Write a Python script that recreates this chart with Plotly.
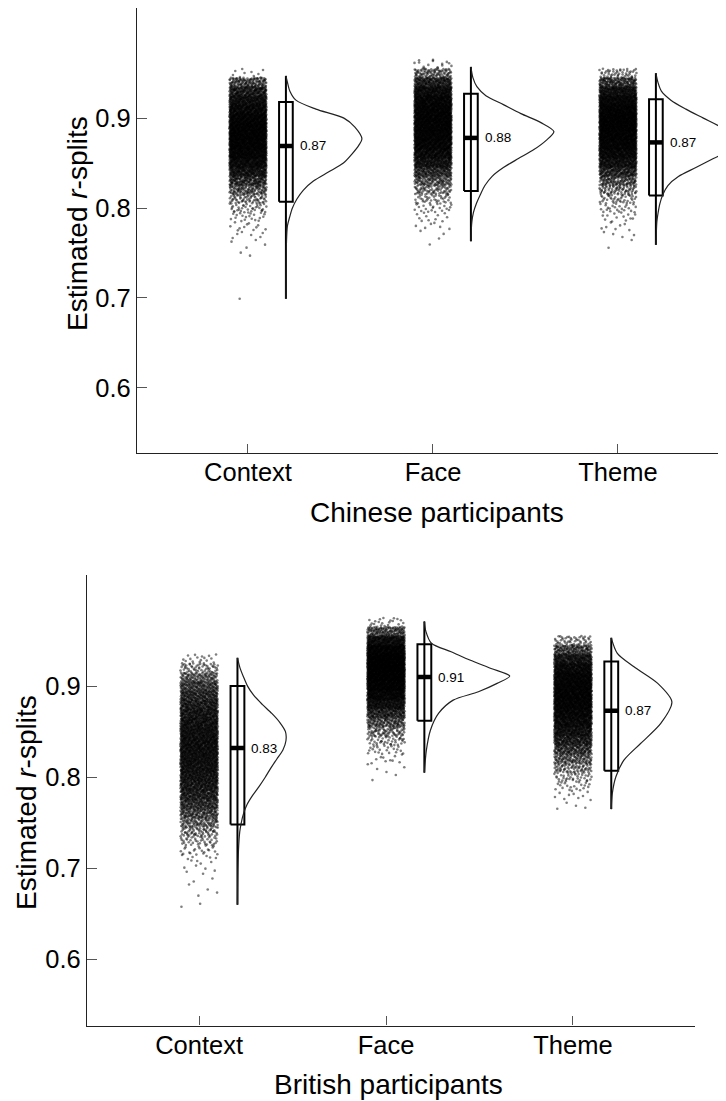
import plotly.graph_objects as go

CATEGORIES = ["Context", "Face", "Theme"]
PANEL_TITLES = ["Chinese participants", "British participants"]
MEDIAN_LABELS_CN = ["0.87", "0.88", "0.87"]
MEDIAN_LABELS_GB = ["0.83", "0.91", "0.87"]

# box summaries: lower whisker, q1, median, q3, upper whisker
CN_CONTEXT_BOX = [0.699, 0.807, 0.869, 0.918, 0.947]
CN_FACE_BOX = [0.763, 0.819, 0.878, 0.927, 0.957]
CN_THEME_BOX = [0.759, 0.814, 0.873, 0.921, 0.950]
GB_CONTEXT_BOX = [0.660, 0.748, 0.832, 0.900, 0.931]
GB_FACE_BOX = [0.805, 0.862, 0.910, 0.946, 0.971]
GB_THEME_BOX = [0.765, 0.807, 0.873, 0.927, 0.953]

# half-violin density profiles (value, density)
CN_CONTEXT_VY = [0.947, 0.94, 0.93, 0.92, 0.91, 0.90, 0.89, 0.877, 0.87, 0.86, 0.85, 0.84, 0.83, 0.82, 0.81, 0.80, 0.79, 0.78, 0.76, 0.73, 0.699]
CN_CONTEXT_VD = [0.0, 0.3, 0.8, 2.0, 6.0, 11.6, 13.8, 15.2, 14.6, 13.2, 11.5, 8.5, 5.5, 3.5, 2.2, 1.3, 0.75, 0.3, 0.1, 0.03, 0.0]
CN_FACE_VY = [0.957, 0.945, 0.935, 0.925, 0.915, 0.905, 0.895, 0.885, 0.875, 0.865, 0.855, 0.845, 0.835, 0.825, 0.815, 0.805, 0.795, 0.785, 0.775, 0.763]
CN_FACE_VD = [0.0, 0.4, 1.2, 3.0, 6.5, 10.0, 14.0, 16.6, 15.0, 12.6, 9.5, 6.5, 4.2, 2.8, 1.9, 1.1, 0.5, 0.2, 0.07, 0.0]
CN_THEME_VY = [0.950, 0.94, 0.93, 0.92, 0.91, 0.90, 0.89, 0.88, 0.872, 0.865, 0.855, 0.845, 0.835, 0.825, 0.815, 0.805, 0.795, 0.785, 0.77, 0.759]
CN_THEME_VD = [0.0, 0.4, 1.1, 3.0, 6.0, 9.5, 13.0, 15.5, 16.0, 15.0, 11.5, 8.0, 4.5, 2.4, 1.4, 0.8, 0.45, 0.2, 0.07, 0.0]
GB_CONTEXT_VY = [0.931, 0.92, 0.91, 0.90, 0.89, 0.88, 0.87, 0.86, 0.85, 0.84, 0.83, 0.82, 0.81, 0.80, 0.79, 0.78, 0.77, 0.76, 0.75, 0.74, 0.73, 0.72, 0.70, 0.68, 0.66]
GB_CONTEXT_VD = [0.0, 0.5, 1.2, 2.0, 3.2, 4.9, 6.8, 8.4, 9.5, 9.6, 9.0, 7.8, 6.6, 5.5, 4.3, 3.0, 1.9, 1.2, 0.75, 0.45, 0.3, 0.2, 0.08, 0.03, 0.0]
GB_FACE_VY = [0.971, 0.96, 0.947, 0.9377, 0.9286, 0.9194, 0.911, 0.903, 0.8938, 0.8846, 0.870, 0.8516, 0.8297, 0.805]
GB_FACE_VD = [0.0, 0.3, 1.4, 5.3, 9.0, 13.2, 16.9, 14.4, 10.7, 5.7, 2.8, 1.2, 0.4, 0.0]
GB_THEME_VY = [0.953, 0.936, 0.9212, 0.903, 0.8827, 0.859, 0.837, 0.8187, 0.8003, 0.782, 0.765]
GB_THEME_VD = [0.0, 1.2, 4.5, 9.2, 12.0, 9.8, 5.8, 2.5, 0.9, 0.2, 0.0]

# jittered raw-estimate clouds: relative counts per 0.01-wide bin
BIN_CENTERS = [0.97, 0.96, 0.95, 0.94, 0.93, 0.92, 0.91, 0.90, 0.89, 0.88, 0.87, 0.86, 0.85, 0.84, 0.83, 0.82,
               0.81, 0.80, 0.79, 0.78, 0.77, 0.76, 0.75, 0.74, 0.73, 0.72, 0.71, 0.70, 0.69, 0.68, 0.67, 0.66]
CN_CONTEXT_CLOUD = [0, 0, 0.3, 4, 7, 9, 10.5, 12, 13, 13.5, 13, 12, 10, 8, 5.5, 3.5,
                    2, 1.1, 0.6, 0.35, 0.2, 0.12, 0.06, 0, 0, 0, 0, 0, 0, 0, 0, 0]
CN_FACE_CLOUD = [0, 0.5, 3, 7, 10, 12, 13, 13.5, 13.5, 13, 12, 10.5, 8.5, 6, 3.8, 2.2,
                 1.2, 0.65, 0.35, 0.2, 0.1, 0.04, 0, 0, 0, 0, 0, 0, 0, 0, 0, 0]
CN_THEME_CLOUD = [0, 0, 1.5, 5, 8.5, 11, 12.5, 13.5, 13.5, 13, 12, 10.5, 8.5, 6, 3.8, 2.2,
                  1.2, 0.7, 0.4, 0.22, 0.12, 0.06, 0, 0, 0, 0, 0, 0, 0, 0, 0, 0]
GB_CONTEXT_CLOUD = [0, 0, 0, 0, 0.5, 1.5, 3, 4.5, 5.5, 6.5, 7.2, 7.8, 8.2, 8.5, 8.5, 8.3,
                    8, 7.5, 7, 6.2, 5.2, 4, 2.8, 1.8, 1.1, 0.6, 0.3, 0.15, 0.08, 0.05, 0.05, 0.05]
GB_FACE_CLOUD = [0.6, 4, 9, 12.5, 14.5, 15, 14.5, 13, 11, 8.5, 6, 3.8, 2.2, 1.2, 0.6, 0.3,
                 0.12, 0.05, 0, 0, 0, 0, 0, 0, 0, 0, 0, 0, 0, 0, 0, 0]
GB_THEME_CLOUD = [0, 0, 1.5, 4.5, 8, 10.5, 12, 12.8, 13, 12.5, 11.5, 10.2, 8.7, 7, 5.2, 3.5,
                  2.2, 1.2, 0.6, 0.3, 0.12, 0, 0, 0, 0, 0, 0, 0, 0, 0, 0, 0]
CN_CONTEXT_OUTLIERS = [0.699]
N_POINTS = 4000

# ---------------- styling / geometry ----------------
FONT = "Liberation Sans, Arial, Helvetica, sans-serif"
BOX_OFF = 0.205
BOX_HW = 0.037
JIT_HW = 0.10
V_SCALE = 5.0 / 185.0
BIN_W = 0.01
PAGE_OFF = 8          # browser body margin
W, H = 726 - PAGE_OFF, 1101 - PAGE_OFF


def halton(k, b):
    f, r = 1.0, 0.0
    while k > 0:
        f /= b
        r += f * (k % b)
        k //= b
    return r


def px_x(p):
    return (p - PAGE_OFF) / W


def px_y(p):
    return 1 - (p - PAGE_OFF) / H


panels = [
    dict(boxes=[CN_CONTEXT_BOX, CN_FACE_BOX, CN_THEME_BOX],
         vy=[CN_CONTEXT_VY, CN_FACE_VY, CN_THEME_VY], vd=[CN_CONTEXT_VD, CN_FACE_VD, CN_THEME_VD],
         cloud=[CN_CONTEXT_CLOUD, CN_FACE_CLOUD, CN_THEME_CLOUD],
         extra=[CN_CONTEXT_OUTLIERS, [], []], labels=MEDIAN_LABELS_CN, xa="x", ya="y"),
    dict(boxes=[GB_CONTEXT_BOX, GB_FACE_BOX, GB_THEME_BOX],
         vy=[GB_CONTEXT_VY, GB_FACE_VY, GB_THEME_VY], vd=[GB_CONTEXT_VD, GB_FACE_VD, GB_THEME_VD],
         cloud=[GB_CONTEXT_CLOUD, GB_FACE_CLOUD, GB_THEME_CLOUD],
         extra=[[], [], []], labels=MEDIAN_LABELS_GB, xa="x2", ya="y2"),
]

fig = go.Figure()
annotations = []

for pi, p in enumerate(panels):
    for i, cat in enumerate(CATEGORIES):
        pos = i + 1
        dens = p["cloud"][i]
        tot = sum(dens)
        xs, ys = [], []
        k = 17 + 997 * (3 * pi + i)
        for c, d in zip(BIN_CENTERS, dens):
            n = int(round(d / tot * N_POINTS))
            for _ in range(n):
                k += 1
                ys.append(c - BIN_W / 2 + halton(k, 3) * BIN_W)
                xs.append(pos + (halton(k, 2) * 2 - 1) * JIT_HW)
        for v in p["extra"][i]:
            ys.append(v)
            xs.append(pos - 0.45 * JIT_HW)
        fig.add_trace(go.Scatter(x=xs, y=ys, mode="markers", xaxis=p["xa"], yaxis=p["ya"],
                                 marker=dict(size=2.6, color="rgba(0,0,0,0.5)", line=dict(width=0)),
                                 hoverinfo="skip", showlegend=False))
        lo, q1, med, q3, hi = p["boxes"][i]
        bx = pos + BOX_OFF
        fig.add_trace(go.Scatter(x=[bx, bx], y=[lo, hi], mode="lines", xaxis=p["xa"], yaxis=p["ya"],
                                 line=dict(color="black", width=2), hoverinfo="skip", showlegend=False))
        fig.add_trace(go.Scatter(x=[bx - BOX_HW, bx + BOX_HW, bx + BOX_HW, bx - BOX_HW, bx - BOX_HW],
                                 y=[q1, q1, q3, q3, q1], mode="lines", xaxis=p["xa"], yaxis=p["ya"],
                                 line=dict(color="black", width=2), hoverinfo="skip", showlegend=False))
        fig.add_trace(go.Scatter(x=[bx - BOX_HW, bx + BOX_HW], y=[med, med], mode="lines",
                                 xaxis=p["xa"], yaxis=p["ya"],
                                 line=dict(color="black", width=4.5), hoverinfo="skip", showlegend=False))
        fig.add_trace(go.Scatter(x=[bx + d * V_SCALE for d in p["vd"][i]], y=p["vy"][i], mode="lines",
                                 xaxis=p["xa"], yaxis=p["ya"],
                                 line=dict(color="#222222", width=1.2, shape="spline", smoothing=0.8),
                                 hoverinfo="skip", showlegend=False))
        annotations.append(dict(x=bx + BOX_HW, y=med, xref=p["xa"], yref=p["ya"], text=p["labels"][i],
                                showarrow=False, xanchor="left", yanchor="middle", xshift=5,
                                font=dict(family=FONT, size=13.5, color="black")))

axis_common = dict(showline=True, linecolor="#222222", linewidth=1.3, showgrid=False, zeroline=False,
                   ticks="inside", tickcolor="#555555", tickwidth=1.2,
                   tickfont=dict(family=FONT, size=25.5, color="black"))

fig.update_layout(
    width=W, height=H, margin=dict(l=0, r=0, t=0, b=0),
    paper_bgcolor="white", plot_bgcolor="white", showlegend=False,
    xaxis=dict(domain=[px_x(137), 1.0], range=[0.4, 3.584], tickvals=[1, 2, 3], ticktext=CATEGORIES,
               ticklen=9, anchor="y", ticklabelstandoff=-4, **axis_common),
    yaxis=dict(domain=[px_y(453), px_y(8)], range=[0.5275, 1.0225], tickvals=[0.6, 0.7, 0.8, 0.9],
               ticktext=["0.6", "0.7", "0.8", "0.9"], ticklen=10, anchor="x", **axis_common),
    xaxis2=dict(domain=[px_x(87), px_x(695)], range=[0.40, 3.653], tickvals=[1, 2, 3], ticktext=CATEGORIES,
                ticklen=9, anchor="y2", ticklabelstandoff=-3, **axis_common),
    yaxis2=dict(domain=[px_y(1025.5), px_y(574.5)], range=[0.5275, 1.0225], tickvals=[0.6, 0.7, 0.8, 0.9],
                ticktext=["0.6", "0.7", "0.8", "0.9"], ticklen=10, anchor="x2", **axis_common),
)

title_font = dict(family=FONT, size=28, color="black")
annotations += [
    dict(x=px_x(77), y=px_y(224), xref="paper", yref="paper", text="Estimated <i>r</i>-splits",
         textangle=-90, showarrow=False, xanchor="center", yanchor="middle", font=title_font),
    dict(x=px_x(26), y=px_y(803), xref="paper", yref="paper", text="Estimated <i>r</i>-splits",
         textangle=-90, showarrow=False, xanchor="center", yanchor="middle", font=title_font),
    dict(x=px_x(437), y=px_y(512), xref="paper", yref="paper", text=PANEL_TITLES[0],
         showarrow=False, xanchor="center", yanchor="middle", font=title_font),
    dict(x=px_x(388), y=px_y(1084), xref="paper", yref="paper", text=PANEL_TITLES[1],
         showarrow=False, xanchor="center", yanchor="middle", font=title_font),
]
fig.update_layout(annotations=annotations)

fig.write_html("out.html")
